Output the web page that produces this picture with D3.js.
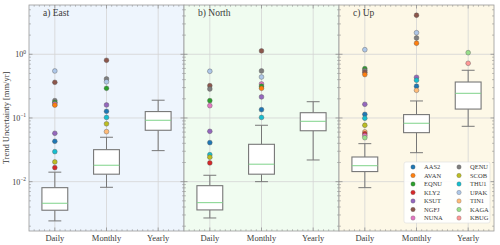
<!DOCTYPE html>
<html><head><meta charset="utf-8">
<script src="https://cdn.jsdelivr.net/npm/d3@7"></script>
<style>body{margin:0;background:#fff}svg{display:block}text{font-family:"Liberation Serif","DejaVu Serif",serif;fill:#3a3a3a}</style>
</head><body><svg id="c" width="500" height="245"></svg>
<script>
const panels = ["a) East", "b) North", "c) Up"];
const resolutions = ["Daily", "Monthly", "Yearly"];
const stations = ["AAS2","AVAN","EQNU","KLY2","KSUT","NGFJ","NUNA","QENU","SCOB","THU1","UPAK","TIN1","KAGA","KBUG"];
const stationColors = ["#1f77b4","#ff7f0e","#2ca02c","#d62728","#9467bd","#8c564b","#e377c2","#7f7f7f","#bcbd22","#17becf","#aec7e8","#ffbb78","#98df8a","#ff9896"];
const panelBg = ["#eef5fd", "#f0fcf0", "#fdf8e7"];
const yTicks = [1e-2, 1e-1, 1];

// box stats per resolution: [whiskerLow, Q1, median, Q3, whiskerHigh]
const eastBoxes = [[0.00242,0.00356,0.00458,0.00805,0.0141],[0.00816,0.0131,0.0181,0.0318,0.0498],[0.0307,0.0641,0.092,0.126,0.19]];
const northBoxes = [[0.00269,0.0036,0.00468,0.00865,0.0126],[0.0100,0.0131,0.0188,0.0386,0.0768],[0.0219,0.063,0.0887,0.121,0.18]];
const upBoxes = [[0.00805,0.0144,0.0178,0.0244,0.0395],[0.0285,0.0588,0.0826,0.113,0.185],[0.074,0.138,0.244,0.367,0.561]];

// outliers: [resolution index, station, value]
const eastOutliers = [
  [0,"UPAK",0.547],[0,"NGFJ",0.363],[0,"QENU",0.187],[0,"EQNU",0.176],[0,"NUNA",0.166],[0,"AVAN",0.159],
  [0,"KSUT",0.0575],[0,"AAS2",0.043],[0,"THU1",0.0296],[0,"SCOB",0.0204],[0,"KLY2",0.0166],
  [1,"NGFJ",0.805],[1,"QENU",0.41],[1,"UPAK",0.37],[1,"EQNU",0.292],[1,"KSUT",0.16],[1,"AAS2",0.127],
  [1,"THU1",0.102],[1,"SCOB",0.081],[1,"TIN1",0.061]
];
const northOutliers = [
  [0,"UPAK",0.541],[0,"NGFJ",0.321],[0,"QENU",0.285],[0,"EQNU",0.187],[0,"NUNA",0.156],
  [0,"KSUT",0.0617],[0,"AAS2",0.041],[0,"THU1",0.0265],[0,"SCOB",0.0242],[0,"KLY2",0.0197],
  [1,"NGFJ",1.13],[1,"QENU",0.547],[1,"UPAK",0.44],[1,"NUNA",0.342],[1,"EQNU",0.315],[1,"AVAN",0.292],
  [1,"KSUT",0.214],[1,"AAS2",0.135],[1,"THU1",0.102]
];
const upOutliers = [
  [0,"UPAK",1.18],[0,"EQNU",0.594],[0,"QENU",0.555],[0,"NGFJ",0.52],[0,"AVAN",0.48],
  [0,"KSUT",0.164],[0,"AAS2",0.114],[0,"THU1",0.099],[0,"SCOB",0.0768],[0,"TIN1",0.0605],
  [0,"KLY2",0.0565],[0,"NUNA",0.053],[0,"KAGA",0.049],
  [1,"NGFJ",4.1],[1,"UPAK",2.18],[1,"QENU",1.8],[1,"AVAN",1.49],[1,"KSUT",0.435],[1,"THU1",0.391],
  [1,"AAS2",0.315],[1,"TIN1",0.272],
  [2,"KAGA",1.06],[2,"KBUG",0.722]
];
const allBoxes = [eastBoxes, northBoxes, upBoxes];
const allOutliers = [eastOutliers, northOutliers, upOutliers];

const svg = d3.select("#c");
const plotTop = 5, plotBottom = 231, left0 = 29, pw = 155;
const y = d3.scaleLog().domain([1.68e-3, 5.94]).range([plotBottom, plotTop]);
const color = d3.scaleOrdinal().domain(stations).range(stationColors);
const minorTicks = [];
for (let e = -3; e <= 0; e++) for (let m = 2; m <= 9; m++) { const v = m * Math.pow(10, e); if (v >= 1.68e-3 && v <= 5.94) minorTicks.push(v); }

panels.forEach((title, p) => {
  const x0 = left0 + p * pw;
  const x = d3.scalePoint().domain(resolutions).range([x0 + pw / 6, x0 + pw * 5 / 6]);
  const unit = pw / 3;
  const g = svg.append("g");
  g.append("rect").attr("x", x0).attr("y", plotTop).attr("width", pw).attr("height", plotBottom - plotTop).attr("fill", panelBg[p]);
  // grid
  g.selectAll(".hg").data(yTicks).join("line").attr("x1", x0).attr("x2", x0 + pw)
    .attr("y1", d => y(d)).attr("y2", d => y(d)).attr("stroke", "#d4d4d4").attr("stroke-width", 0.8);
  g.selectAll(".vg").data(resolutions).join("line").attr("x1", d => x(d)).attr("x2", d => x(d))
    .attr("y1", plotTop).attr("y2", plotBottom).attr("stroke", "#d4d4d4").attr("stroke-width", 0.8);
  // boxes
  const bw = unit * 0.5;
  allBoxes[p].forEach((b, i) => {
    const cx = x(resolutions[i]);
    const [wl, q1, md, q3, wh] = b;
    g.append("line").attr("x1", cx).attr("x2", cx).attr("y1", y(wl)).attr("y2", y(q1)).attr("stroke", "#777").attr("stroke-width", 1);
    g.append("line").attr("x1", cx).attr("x2", cx).attr("y1", y(q3)).attr("y2", y(wh)).attr("stroke", "#777").attr("stroke-width", 1);
    [wl, wh].forEach(v => g.append("line").attr("x1", cx - bw / 4).attr("x2", cx + bw / 4).attr("y1", y(v)).attr("y2", y(v)).attr("stroke", "#777").attr("stroke-width", 1));
    g.append("rect").attr("x", cx - bw / 2).attr("y", y(q3)).attr("width", bw).attr("height", y(q1) - y(q3))
      .attr("fill", "#fff").attr("stroke", "#777").attr("stroke-width", 1.1);
    g.append("line").attr("x1", cx - bw / 2).attr("x2", cx + bw / 2).attr("y1", y(md)).attr("y2", y(md)).attr("stroke", "#7fd38a").attr("stroke-width", 1);
  });
  // outliers
  g.selectAll(".o").data(allOutliers[p]).join("circle")
    .attr("cx", d => x(resolutions[d[0]])).attr("cy", d => y(d[2])).attr("r", 2.4)
    .attr("fill", d => color(d[1])).attr("stroke", "#555").attr("stroke-width", 0.4);
  // frame
  g.append("rect").attr("x", x0).attr("y", plotTop).attr("width", pw).attr("height", plotBottom - plotTop)
    .attr("fill", "none").attr("stroke", "#999").attr("stroke-width", 0.8);
  // y ticks (in, both sides)
  [[x0, 1], [x0 + pw, -1]].forEach(([xe, dir]) => {
    g.selectAll(null).data(yTicks).join("line").attr("x1", xe).attr("x2", xe + dir * 3.5)
      .attr("y1", d => y(d)).attr("y2", d => y(d)).attr("stroke", "#777").attr("stroke-width", 0.6);
    g.selectAll(null).data(minorTicks).join("line").attr("x1", xe).attr("x2", xe + dir * 2)
      .attr("y1", d => y(d)).attr("y2", d => y(d)).attr("stroke", "#888").attr("stroke-width", 0.5);
  });
  // x ticks
  [[plotBottom, -1], [plotTop, 1]].forEach(([ye, dir]) => {
    g.selectAll(null).data(resolutions).join("line").attr("x1", d => x(d)).attr("x2", d => x(d))
      .attr("y1", ye).attr("y2", ye + dir * 3.5).attr("stroke", "#777").attr("stroke-width", 0.6);
    const mins = d3.range(0.6, 3.45, 0.1).filter(v => Math.abs(v - Math.round(v)) > 0.05);
    g.selectAll(null).data(mins).join("line").attr("x1", v => x0 + (v - 0.5) * unit).attr("x2", v => x0 + (v - 0.5) * unit)
      .attr("y1", ye).attr("y2", ye + dir * 1.8).attr("stroke", "#888").attr("stroke-width", 0.5);
  });
  // x labels
  g.selectAll(".xl").data(resolutions).join("text").attr("x", d => x(d)).attr("y", 241)
    .attr("text-anchor", "middle").attr("font-size", 8.5).text(d => d);
  // title
  g.append("text").attr("x", x0 + 14).attr("y", 16).attr("font-size", 9.5).text(title);
});

// y axis labels
const yl = svg.append("g");
yTicks.forEach(v => {
  const e = Math.round(Math.log10(v));
  const t = yl.append("text").attr("x", 26).attr("y", y(v) + 3).attr("text-anchor", "end").attr("font-size", 8);
  t.append("tspan").text("10");
  t.append("tspan").attr("dy", -3.5).attr("font-size", 5.5).text(e === 0 ? "0" : "\u2212" + (-e));
});
svg.append("text").attr("transform", `translate(9,${(plotTop + plotBottom) / 2}) rotate(-90)`).attr("text-anchor", "middle")
  .attr("font-size", 8.5).text("Trend Uncertainty [mm/yr]");

// legend
const lx = 404, ly = 162;
const lg = svg.append("g");
lg.append("rect").attr("x", lx).attr("y", ly).attr("width", 86).attr("height", 61).attr("rx", 2)
  .attr("fill", "#fff").attr("fill-opacity", 0.9).attr("stroke", "#ddd").attr("stroke-width", 0.6);
stations.forEach((s, i) => {
  const col = Math.floor(i / 7), row = i % 7;
  const mx = lx + 9 + col * 46, my = ly + 5 + row * 8.5;
  lg.append("circle").attr("cx", mx).attr("cy", my).attr("r", 2.2).attr("fill", color(s)).attr("stroke", "#555").attr("stroke-width", 0.3);
  lg.append("text").attr("x", mx + 11).attr("y", my + 2.4).attr("font-size", 6.5).text(s);
});
</script></body></html>
